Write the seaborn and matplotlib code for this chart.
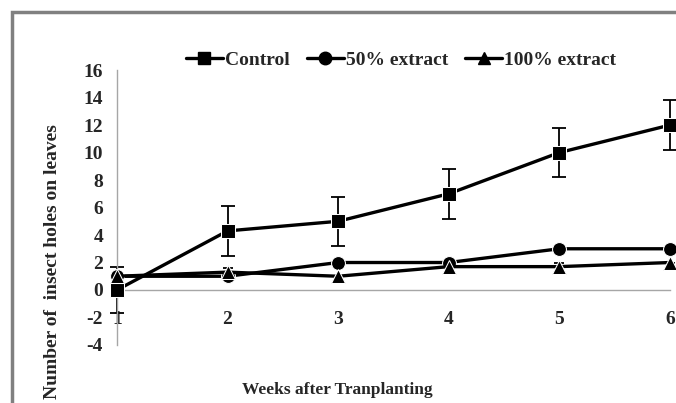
import numpy as np
import pandas as pd
import matplotlib
matplotlib.use("Agg")
import matplotlib.pyplot as plt
import seaborn as sns
from matplotlib.patches import Rectangle

# -----------------------------
# DATA
# -----------------------------
weeks = [1, 2, 3, 4, 5, 6]
control = [0, 4.3, 5.0, 7.0, 10.0, 12.0]
control_err = [1.7, 1.8, 1.8, 1.8, 1.8, 1.8]
extract_50 = [1, 1, 2, 2, 3, 3]
extract_50_err = [0, 0, 0, 0, 0, 0]
extract_100 = [1, 1.3, 1.0, 1.7, 1.7, 2.0]
extract_100_err = [0, 0.3, 0, 0, 0.3, 0]
series_names = ["Control", "50% extract", "100% extract"]
y_ticks = [-4, -2, 0, 2, 4, 6, 8, 10, 12, 14, 16]

df = pd.DataFrame({
    "week": weeks * 3,
    "holes": control + extract_50 + extract_100,
    "err": control_err + extract_50_err + extract_100_err,
    "group": [series_names[0]] * 6 + [series_names[1]] * 6 + [series_names[2]] * 6,
})

# -----------------------------
# STYLE
# -----------------------------
sns.set_style("white")
plt.rcParams["font.family"] = ["Liberation Serif", "DejaVu Serif"]
plt.rcParams["font.weight"] = "bold"
plt.rcParams["axes.unicode_minus"] = False

fig = plt.figure(figsize=(6.76, 4.03), dpi=100)
ax = fig.add_axes([0.173, 0.144, 0.818, 0.682])

# outer chart frame (left and top edges visible)
fig.patches.append(Rectangle((12 / 676, -0.1), 1.2, 1 - 12 / 403 + 0.1,
                             transform=fig.transFigure, fill=False,
                             edgecolor="#808080", linewidth=2.5))

markers = {"Control": "s", "50% extract": "o", "100% extract": "^"}
sizes = {"Control": 10, "50% extract": 10, "100% extract": 9}

for name in series_names:
    sub = df[df["group"] == name]
    ax.errorbar(sub["week"], sub["holes"], yerr=sub["err"], fmt="none",
                ecolor="black", elinewidth=1.3, capsize=3.5, capthick=1.3,
                clip_on=False, zorder=2)

sns.lineplot(data=df, x="week", y="holes", hue="group", style="group",
             markers=markers, dashes=False, palette=["black"] * 3,
             linewidth=2.4, markersize=10, ax=ax, legend=False,
             clip_on=False, zorder=3)
for line, name in zip(ax.lines, series_names):
    line.set_markersize(sizes[name])
    line.set_clip_on(False)

# -----------------------------
# AXES
# -----------------------------
ax.set_xlim(1, 6)
ax.set_ylim(-4, 16)
ax.set_yticks(y_ticks)
ax.set_xticks(weeks)
for s in ["top", "right"]:
    ax.spines[s].set_visible(False)
ax.spines["bottom"].set_position(("data", 0))
for s in ["left", "bottom"]:
    ax.spines[s].set_color("#a6a6a6")
    ax.spines[s].set_linewidth(1.0)
ax.tick_params(axis="y", direction="out", length=5, width=1, color="#a6a6a6",
               labelsize=14, pad=5)
ax.tick_params(axis="x", direction="out", length=5, width=1, color="#a6a6a6",
               labelsize=14, pad=10)
for lab in ax.get_xticklabels() + ax.get_yticklabels():
    lab.set_fontweight("bold")
ax.set_xlabel("")
ax.set_ylabel("")

fig.text(53 / 676, 1 - 262 / 403, "Number of  insect holes on leaves",
         rotation=90, ha="center", va="center", fontsize=14, fontweight="bold")
fig.text(337 / 676, 1 - 390 / 403, "Weeks after Tranplanting",
         ha="center", va="center", fontsize=12.5, fontweight="bold")

# -----------------------------
# LEGEND
# -----------------------------
handles = [plt.Line2D([], [], color="black", linewidth=2.4, marker=markers[n],
                      markersize=sizes[n] - 1) for n in series_names]
fig.legend(handles, series_names, loc="center", ncol=3,
           bbox_to_anchor=(401 / 676, 1 - 60 / 403), frameon=False,
           handlelength=1.9, handletextpad=0.1, columnspacing=0.9,
           prop={"size": 14, "weight": "bold"})

plt.savefig("out.png", dpi=100)
plt.close()
